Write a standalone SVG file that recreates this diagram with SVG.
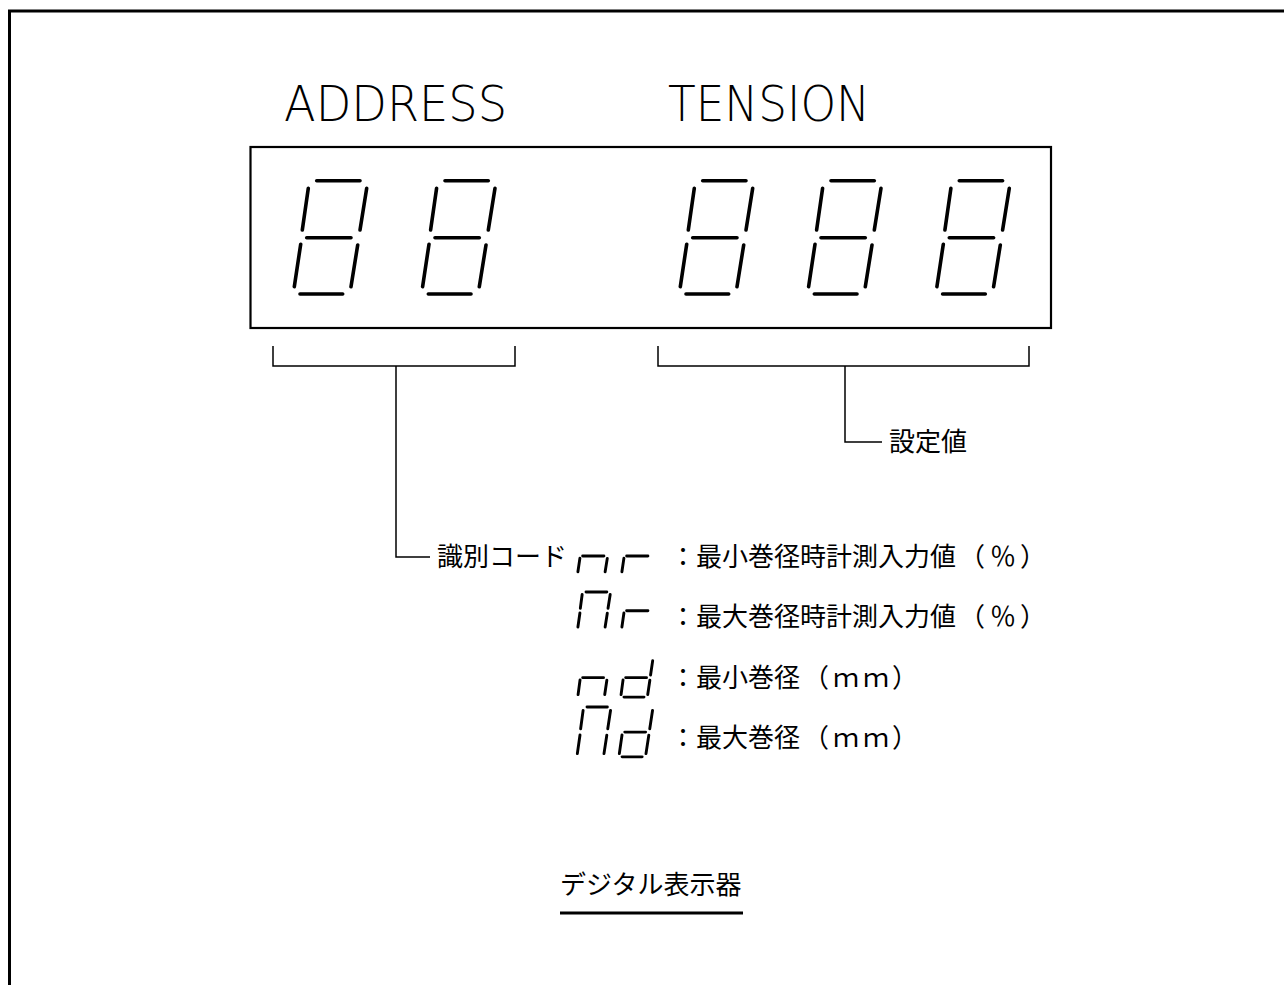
<svg xmlns="http://www.w3.org/2000/svg" xmlns:xlink="http://www.w3.org/1999/xlink" width="1284" height="985" viewBox="0 0 1284 985">
<style>
.frame{fill:none;stroke:#000;stroke-width:3}
.box{fill:none;stroke:#000;stroke-width:2.2}
.conn{fill:none;stroke:#000;stroke-width:1.5}
.big{stroke:#000;stroke-width:3.6;stroke-linecap:round;fill:none}
.small{stroke:#000;stroke-width:2.9;stroke-linecap:round;fill:none}
.seg{vector-effect:non-scaling-stroke}
.lat{font-family:"DejaVu Sans","Liberation Sans",sans-serif;font-weight:200;font-size:49px;fill:#000}
.jp{font-family:"Noto Sans CJK JP","Noto Sans",sans-serif;font-size:26px;fill:#000}
</style>
<defs>
<line id="sA" class="seg" x1="0" y1="0" x2="43.3" y2="0"/>
<line id="sF" class="seg" x1="-8.4" y1="7.6" x2="-14.4" y2="49.3"/>
<line id="sB" class="seg" x1="50" y1="7.6" x2="43.3" y2="49.3"/>
<line id="sG" class="seg" x1="-10" y1="57" x2="34.3" y2="57"/>
<line id="sE" class="seg" x1="-16" y1="63.5" x2="-22.4" y2="106"/>
<line id="sC" class="seg" x1="41" y1="64.3" x2="34.3" y2="106"/>
<line id="sD" class="seg" x1="-16.7" y1="113.3" x2="26" y2="113.3"/>
<g id="d8"><use href="#sA"/><use href="#sF"/><use href="#sB"/><use href="#sG"/><use href="#sE"/><use href="#sC"/><use href="#sD"/></g>
<g id="dn"><use href="#sG"/><use href="#sE"/><use href="#sC"/></g>
<g id="dr"><use href="#sG"/><use href="#sE"/></g>
<g id="dM"><use href="#sA"/><use href="#sF"/><use href="#sB"/><use href="#sE"/><use href="#sC"/></g>
<g id="dd"><use href="#sB"/><use href="#sG"/><use href="#sE"/><use href="#sC"/><use href="#sD"/></g>
</defs>
<rect width="1284" height="985" fill="#fff"/>
<path class="frame" d="M9.5,985 V11 H1284"/>

<g id="label-address"><text class="lat" x="284" y="121" textLength="223" lengthAdjust="spacingAndGlyphs">ADDRESS</text></g>
<g id="label-tension"><text class="lat" x="668" y="121" textLength="202" lengthAdjust="spacingAndGlyphs">TENSION</text></g>

<g id="display">
<rect class="box" x="250.5" y="147" width="800.5" height="181"/>
<g class="big">
<use href="#d8" transform="translate(316.7,180.7)"/>
<use href="#d8" transform="translate(445,180.7)"/>
<use href="#d8" transform="translate(702.7,180.7)"/>
<use href="#d8" transform="translate(831,180.7)"/>
<use href="#d8" transform="translate(959.3,180.7)"/>
</g>
</g>

<g id="connectors">
<path class="conn" d="M273,346 V366 H515 V346"/>
<path class="conn" d="M396,366 V557 H430"/>
<path class="conn" d="M658,346 V366 H1029 V346"/>
<path class="conn" d="M845,366 V442 H882"/>
</g>

<g id="label-setting"><text class="jp" x="889" y="451">設定値</text></g>
<g id="label-code"><text class="jp" x="437" y="566">識別コード</text></g>

<g id="code-nr" class="small">
<use href="#dn" transform="translate(586,537.8) scale(0.48,0.32) skewX(3)"/>
<use href="#dr" transform="translate(630,537.8) scale(0.48,0.32) skewX(3)"/>
</g>
<g id="code-Mr" class="small">
<use href="#dM" transform="translate(586,592) scale(0.48,0.33) skewX(3)"/>
<use href="#dr" transform="translate(630,592) scale(0.48,0.33) skewX(3)"/>
</g>
<g id="code-nd" class="small">
<use href="#dn" transform="translate(586,658) scale(0.47,0.345) skewX(3)"/>
<use href="#dd" transform="translate(629,658) scale(0.47,0.345) skewX(3)"/>
</g>
<g id="code-Md" class="small">
<use href="#dM" transform="translate(587,707) scale(0.47,0.44) skewX(1)"/>
<use href="#dd" transform="translate(629,707) scale(0.47,0.44) skewX(1)"/>
</g>

<g id="desc1"><text class="jp" x="670" y="566">：最小巻径時計測入力値<tspan dx="3 5 4">（％）</tspan></text></g>
<g id="desc2"><text class="jp" x="670" y="626">：最大巻径時計測入力値<tspan dx="3 5 4">（％）</tspan></text></g>
<g id="desc3"><text class="jp" x="670" y="687">：最小巻径<tspan dx="3 4 4 3">（ｍｍ）</tspan></text></g>
<g id="desc4"><text class="jp" x="670" y="747">：最大巻径<tspan dx="3 4 4 3">（ｍｍ）</tspan></text></g>

<g id="caption">
<text class="jp" x="560" y="894">デジタル表示器</text>
<line x1="560" y1="913" x2="743" y2="913" stroke="#000" stroke-width="3"/>
</g>
</svg>
